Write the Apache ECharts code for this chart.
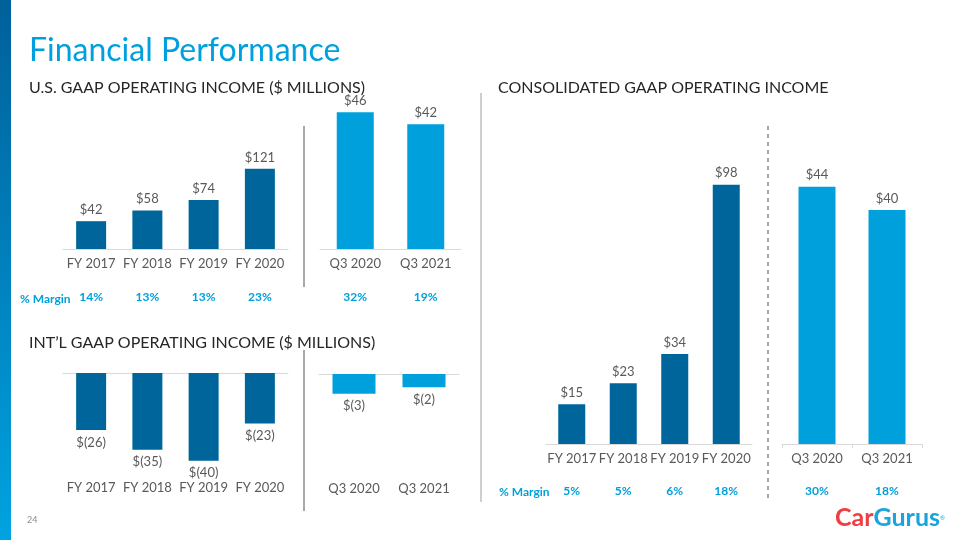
<!DOCTYPE html>
<html><head><meta charset="utf-8">
<script src="https://cdn.jsdelivr.net/npm/echarts@6/dist/echarts.min.js"></script>
<style>html,body{margin:0;padding:0;background:#fff}#c{width:960px;height:540px}</style>
</head><body><div id="c"></div>
<script>
const fyCategories = ['FY 2017', 'FY 2018', 'FY 2019', 'FY 2020'];
const q3Categories = ['Q3 2020', 'Q3 2021'];
const usFy = [42, 58, 74, 121];
const usQ3 = [46, 42];
const usFyMargin = ['14%', '13%', '13%', '23%'];
const usQ3Margin = ['32%', '19%'];
const intlFy = [-26, -35, -40, -23];
const intlQ3 = [-3, -2];
const consFy = [15, 23, 34, 98];
const consQ3 = [44, 40];
const consFyMargin = ['5%', '5%', '6%', '18%'];
const consQ3Margin = ['30%', '18%'];

const DARK = '#00659b';
const LIGHT = '#00a0dc';
const FONT = 'Lato, "Open Sans", sans-serif';
const LABEL_COLOR = '#595959';

const chart = echarts.init(document.getElementById('c'), null, {renderer: 'canvas'});

const panels = [
  {grid: {left: 63, top: 149, width: 225, height: 100}, cats: fyCategories, vals: usFy, color: DARK, barW: 30, min: 0, max: 151, margins: usFyMargin, mOffset: 34},
  {grid: {left: 320, top: 99, width: 141, height: 150}, cats: q3Categories, vals: usQ3, color: LIGHT, barW: 37, min: 0, max: 50.5, margins: usQ3Margin, mOffset: 34},
  {grid: {left: 63, top: 373, width: 225, height: 100}, cats: fyCategories, vals: intlFy, color: DARK, barW: 30, min: -45.6, max: 0, neg: true},
  {grid: {left: 319, top: 374, width: 140, height: 100}, cats: q3Categories, vals: intlQ3, color: LIGHT, barW: 43, min: -15.2, max: 0, neg: true},
  {grid: {left: 546, top: 144, width: 206, height: 300}, cats: fyCategories, vals: consFy, color: DARK, barW: 27, min: 0, max: 113.4, margins: consFyMargin, mOffset: 33},
  {grid: {left: 782, top: 144, width: 140, height: 300}, cats: q3Categories, vals: consQ3, color: LIGHT, barW: 37, min: 0, max: 51.3, margins: consQ3Margin, mOffset: 33, ticks: true}
];

const grid = [], xAxis = [], yAxis = [], series = [];
const fmt = v => v < 0 ? '$(' + Math.abs(v) + ')' : '$' + v;
const catLabel = {color: LABEL_COLOR, fontFamily: FONT, fontSize: 13, margin: 8, interval: 0, hideOverlap: false};

panels.forEach((p, i) => {
  grid.push(Object.assign({containLabel: false}, p.grid));
  yAxis.push({type: 'value', gridIndex: i, min: p.min, max: p.max, show: false});
  let seriesAxis;
  if (p.neg) {
    seriesAxis = xAxis.length;
    xAxis.push({type: 'category', gridIndex: i, data: p.cats, position: 'top',
      axisLine: {show: true, onZero: false, lineStyle: {color: '#d9d9d9', width: 1}},
      axisTick: {show: false}, axisLabel: {show: false}});
    xAxis.push({type: 'category', gridIndex: i, data: p.cats, position: 'bottom',
      axisLine: {show: false, onZero: false}, axisTick: {show: false},
      axisLabel: catLabel});
  } else {
    seriesAxis = xAxis.length;
    xAxis.push({type: 'category', gridIndex: i, data: p.cats, position: 'bottom',
      axisLine: {show: true, lineStyle: {color: '#d9d9d9', width: 1}},
      axisTick: {show: !!p.ticks, length: 4, lineStyle: {color: '#d9d9d9'}},
      axisLabel: catLabel});
    if (p.margins) {
      xAxis.push({type: 'category', gridIndex: i, data: p.margins, position: 'bottom', offset: p.mOffset,
        axisLine: {show: false}, axisTick: {show: false},
        axisLabel: {color: LIGHT, fontFamily: FONT, fontSize: 12, fontWeight: 'bold', margin: 8, interval: 0}});
    }
  }
  series.push({type: 'bar', xAxisIndex: seriesAxis, yAxisIndex: i, data: p.vals, barWidth: p.barW,
    itemStyle: {color: p.color}, silent: true, animation: false,
    label: {show: true, position: p.neg ? 'bottom' : 'top', distance: p.neg ? 6 : 5,
      color: LABEL_COLOR, fontFamily: FONT, fontSize: 13, formatter: d => fmt(d.value)}});
});

const txt = (x, y, text, font, fill, align) => ({type: 'text', silent: true,
  style: {x, y, text, font, fill, textAlign: align || 'left', textVerticalAlign: 'middle'}});
const line = (x1, y1, x2, y2, stroke, w, dash) => ({type: 'line', silent: true,
  shape: {x1, y1, x2, y2}, style: {stroke, lineWidth: w, lineDash: dash || null}});

const graphic = [
  {type: 'rect', silent: true, shape: {x: 0, y: 0, width: 11, height: 540},
    style: {fill: new echarts.graphic.LinearGradient(0, 0, 0, 1, [{offset: 0, color: '#00609a'}, {offset: 1, color: '#00a3e0'}])}},
  txt(29, 51, 'Financial Performance', '32px ' + FONT, '#00a0df'),
  txt(29, 88, 'U.S. GAAP OPERATING INCOME ($ MILLIONS)', '16px ' + FONT, '#262626'),
  txt(29, 343, 'INT\u2019L GAAP OPERATING INCOME ($ MILLIONS)', '16px ' + FONT, '#262626'),
  txt(498, 88, 'CONSOLIDATED GAAP OPERATING INCOME', '16px ' + FONT, '#262626'),
  txt(20, 299, '% Margin', 'bold 12px ' + FONT, LIGHT),
  txt(499, 492, '% Margin', 'bold 12px ' + FONT, LIGHT),
  line(304, 126, 304, 287, '#8c8c8c', 1.5),
  line(304, 350, 304, 511, '#8c8c8c', 1.5),
  line(481, 93, 481, 502, '#bfbfbf', 1.5),
  line(768, 126, 768, 502, '#a6a6a6', 2, [4, 4]),
  txt(27, 520, '24', '9px ' + FONT, '#8c8c8c'),
  {type: 'text', silent: true, style: {x: 835, y: 518, textVerticalAlign: 'middle',
    text: '{r|Car}{b|Gurus}{s|\u00ae}', font: 'bold 25px ' + FONT,
    rich: {r: {fill: '#ef3e42', font: 'bold 25px ' + FONT}, b: {fill: '#1aa3dd', font: 'bold 25px ' + FONT}, s: {fill: '#1aa3dd', font: '6px ' + FONT}}}}
];

chart.setOption({animation: false, grid, xAxis, yAxis, series, graphic});
</script></body></html>
